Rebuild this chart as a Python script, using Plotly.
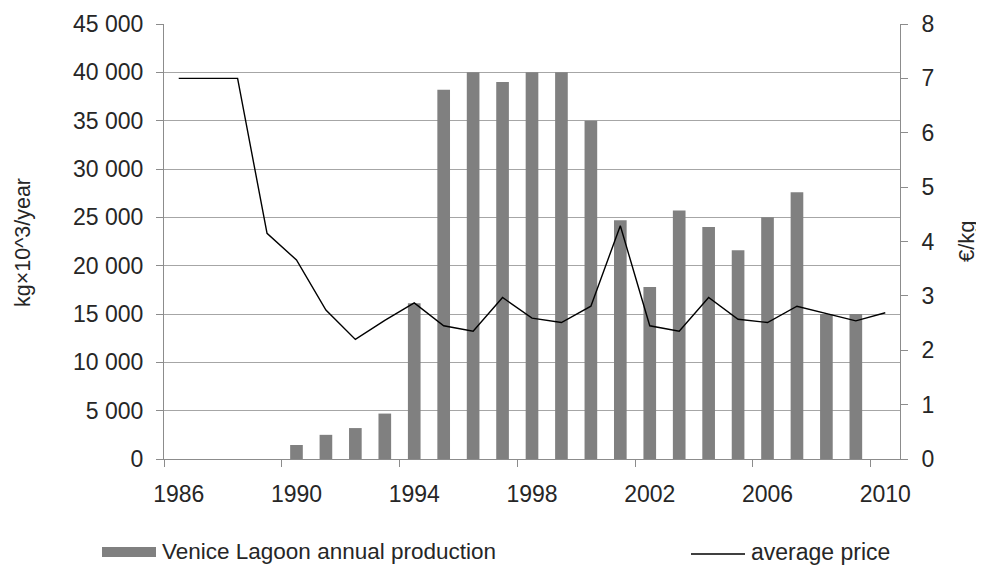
import plotly.graph_objects as go

# ---- data ----
years = [str(y) for y in range(1986, 2011)]
prod_years = [str(y) for y in range(1990, 2010)]
production = [1450, 2500, 3200, 4700, 16100, 38200, 40000, 39000, 40000, 40000,
              35000, 24700, 17800, 25700, 24000, 21600, 25000, 27600, 15000, 15000]
price = [7.0, 7.0, 7.0, 4.15, 3.66, 2.74, 2.20, 2.55, 2.87, 2.45, 2.35, 2.97, 2.59,
         2.51, 2.81, 4.29, 2.45, 2.35, 2.97, 2.57, 2.51, 2.81, 2.68, 2.54, 2.69]
left_tick_vals = [0, 5000, 10000, 15000, 20000, 25000, 30000, 35000, 40000, 45000]
left_tick_labels = ["0", "5 000", "10 000", "15 000", "20 000", "25 000",
                    "30 000", "35 000", "40 000", "45 000"]
right_tick_vals = [0, 1, 2, 3, 4, 5, 6, 7, 8]
bar_name = "Venice Lagoon annual production"
line_name = "average price"
left_title = "kg×10^3/year"
right_title = "€/kg"

FONT = "Liberation Sans, Arial, sans-serif"
TXT = "#262626"
AXC = "#8c8c8c"
GRID = "#a6a6a6"
BAR = "#808080"

# page has an 8px body margin; plot area should land at page x 164..900, y 24..459
OFF = 8
L, R, T, B = 164 - OFF, 984 - 900 + OFF, 24 - OFF, 565 - 459 + OFF

fig = go.Figure()
fig.add_trace(go.Bar(x=prod_years, y=production, name=bar_name,
                     marker=dict(color=BAR, line=dict(width=0)),
                     showlegend=False, yaxis="y"))
fig.add_trace(go.Scatter(x=years, y=price, name=line_name, mode="lines",
                         line=dict(color="black", width=1.4),
                         showlegend=False, yaxis="y2"))

fig.update_layout(
    width=984, height=565,
    margin=dict(l=L, r=R, t=T, b=B, autoexpand=False),
    paper_bgcolor="white", plot_bgcolor="white",
    font=dict(family=FONT, size=23, color=TXT),
    bargap=0.57,
    xaxis=dict(type="category", categoryorder="array", categoryarray=years,
               range=[-0.5, len(years) - 0.5], automargin=False,
               tickmode="linear", tick0=0, dtick=4, tickson="boundaries",
               tickangle=0,
               ticks="outside", ticklen=7, tickcolor=AXC,
               showline=True, linecolor=AXC, linewidth=1,
               showgrid=False, ticklabelstandoff=14,
               tickfont=dict(size=23, color=TXT)),
    yaxis=dict(range=[0, 45000], tickvals=left_tick_vals, ticktext=left_tick_labels,
               automargin=False,
               ticks="outside", ticklen=7, tickcolor=AXC,
               showline=True, linecolor=AXC, linewidth=1,
               showgrid=True, gridcolor=GRID, gridwidth=1, zeroline=False,
               ticklabelstandoff=8, tickfont=dict(size=23, color=TXT)),
    yaxis2=dict(range=[0, 8], tickvals=right_tick_vals, overlaying="y", side="right",
                automargin=False,
                ticks="outside", ticklen=7, tickcolor=AXC,
                showline=True, linecolor=AXC, linewidth=1,
                showgrid=False, zeroline=False,
                ticklabelstandoff=9, tickfont=dict(size=23, color=TXT)),
)


def px_x(p):
    return (p - 164) / 736


def px_y(p):
    return (459 - p) / 435


# axis titles
fig.add_annotation(text=left_title, xref="paper", yref="paper",
                   x=px_x(23), y=px_y(243), textangle=-90,
                   showarrow=False, xanchor="center", yanchor="middle",
                   font=dict(size=21.5, color=TXT))
fig.add_annotation(text=right_title, xref="paper", yref="paper",
                   x=px_x(966), y=px_y(241), textangle=-90,
                   showarrow=False, xanchor="center", yanchor="middle",
                   font=dict(size=22, color=TXT))

# legend
fig.add_shape(type="rect", xref="paper", yref="paper",
              x0=px_x(102), x1=px_x(156), y0=px_y(547), y1=px_y(557),
              fillcolor=BAR, line=dict(width=0))
fig.add_annotation(text=bar_name, xref="paper", yref="paper",
                   x=px_x(160), y=px_y(551), xanchor="left", yanchor="middle",
                   showarrow=False, font=dict(size=22.5, color=TXT))
fig.add_shape(type="line", xref="paper", yref="paper",
              x0=px_x(691), x1=px_x(745), y0=px_y(554), y1=px_y(554),
              line=dict(color="black", width=1.4))
fig.add_annotation(text=line_name, xref="paper", yref="paper",
                   x=px_x(749), y=px_y(552), xanchor="left", yanchor="middle",
                   showarrow=False, font=dict(size=23, color=TXT))

fig.write_html("out.html")
